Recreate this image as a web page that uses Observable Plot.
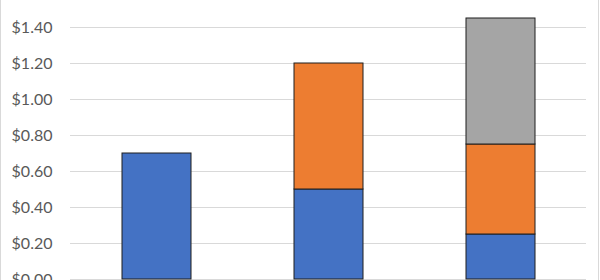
<!DOCTYPE html>
<html>
<head>
<meta charset="utf-8">
<script src="https://cdn.jsdelivr.net/npm/d3@7"></script>
<script src="https://cdn.jsdelivr.net/npm/@observablehq/plot@0.6"></script>
<style>
  html, body { margin: 0; padding: 0; background: #fff; overflow: hidden; }
  #wrap { position: relative; width: 600px; height: 280px; }
  #wrap .bl { position: absolute; top: 0; left: 0; width: 1px; height: 280px; background: #d9d9d9; }
  #wrap .br { position: absolute; top: 0; left: 598px; width: 1px; height: 280px; background: #d9d9d9; }
</style>
</head>
<body>
<div id="wrap"><div class="bl"></div><div class="br"></div></div>
<script>
const categories = ["Group 1", "Group 2", "Group 3"];
const seriesNames = ["Series 1", "Series 2", "Series 3"];
const series1 = [0.70, 0.50, 0.25];
const series2 = [0.00, 0.70, 0.50];
const series3 = [0.00, 0.00, 0.70];
const yTicks = [0, 0.2, 0.4, 0.6, 0.8, 1.0, 1.2, 1.4];
const colors = ["#4472C4", "#ED7D31", "#A5A5A5"];

const allSeries = [series1, series2, series3];
const rows = [];
categories.forEach((c, i) => {
  allSeries.forEach((s, j) => {
    if (s[i] > 0) rows.push({category: c, series: seriesNames[j], value: s[i]});
  });
});

const chart = Plot.plot({
  width: 600,
  height: 280,
  marginLeft: 70,
  marginRight: 14,
  marginTop: 0,
  marginBottom: 1,
  style: {fontFamily: "Lato, 'Open Sans', sans-serif", fontSize: "16px", color: "#595959", background: "transparent", overflow: "visible"},
  x: {domain: categories, paddingInner: 0.6, paddingOuter: 0.3, axis: null},
  y: {domain: [0, 1.55], axis: null},
  color: {domain: seriesNames, range: colors},
  marks: [
    Plot.ruleY(yTicks, {stroke: "#d9d9d9", strokeWidth: 1}),
    Plot.axisY({ticks: yTicks, label: null, tickSize: 0, tickPadding: 18, tickFormat: d => "$" + d.toFixed(2), fill: "#595959", fontSize: 16}),
    Plot.barY(rows, {x: "category", y: "value", fill: "series", stroke: "#1f1f1f", strokeWidth: 1, order: seriesNames})
  ]
});
document.getElementById("wrap").appendChild(chart);
</script>
</body>
</html>
